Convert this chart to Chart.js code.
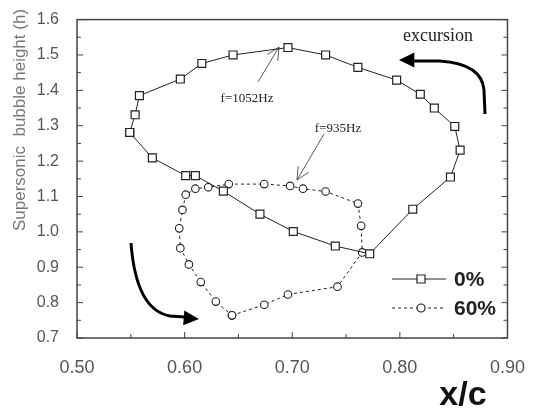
<!DOCTYPE html>
<html>
<head>
<meta charset="utf-8">
<script src="https://cdn.jsdelivr.net/npm/chart.js@4.4.1/dist/chart.umd.min.js"></script>
<style>
  html, body { margin: 0; padding: 0; background: #fff; }
</style>
</head>
<body>
<canvas id="c" width="536" height="412"></canvas>
<script>
// supersonic bubble height over the cycle, two cases

const seriesNames = ['0%', '60%'];

// 0% case, clockwise from the leftmost point
const xc0 = [0.549, 0.554, 0.558, 0.596, 0.616, 0.645, 0.696, 0.731, 0.761, 0.797, 0.819, 0.832,
             0.851, 0.856, 0.847, 0.812, 0.772, 0.740, 0.701, 0.670, 0.636, 0.610, 0.601, 0.570];
const h0  = [1.281, 1.331, 1.385, 1.432, 1.476, 1.500, 1.521, 1.500, 1.465, 1.429, 1.389, 1.350,
             1.298, 1.231, 1.155, 1.064, 0.938, 0.960, 1.001, 1.050, 1.115, 1.159, 1.159, 1.209];

// 60% case, starting from the lowest point
const xc60 = [0.644, 0.674, 0.696, 0.742, 0.765, 0.764, 0.761, 0.731, 0.710, 0.698, 0.674,
              0.641, 0.622, 0.610, 0.601, 0.598, 0.595, 0.596, 0.604, 0.615, 0.629];
const h60  = [0.764, 0.794, 0.823, 0.845, 0.942, 1.017, 1.080, 1.114, 1.122, 1.130, 1.135,
              1.135, 1.126, 1.122, 1.105, 1.062, 1.010, 0.954, 0.908, 0.858, 0.803];

const xTickVals = [0.50, 0.60, 0.70, 0.80, 0.90];
const yTickVals = [0.7, 0.8, 0.9, 1.0, 1.1, 1.2, 1.3, 1.4, 1.5, 1.6];

const xTitle = 'x/c';
const yTitle = 'Supersonic  bubble height (h)';
const notes = [
  { text: 'f=1052Hz', x: 247, y: 99, from: [258, 82], to: [279, 47] },
  { text: 'f=935Hz', x: 338, y: 129, from: [324, 134], to: [297, 180] },
];

// closed loop: repeat first point at the end
const loop = (xs, ys) => xs.map((x, i) => ({ x, y: ys[i] })).concat([{ x: xs[0], y: ys[0] }]);

function openArrow(ctx, [x1, y1], [x2, y2]) {
  const ang = Math.atan2(y1 - y2, x1 - x2);
  ctx.beginPath();
  ctx.moveTo(x1, y1); ctx.lineTo(x2, y2);
  for (const d of [-0.45, 0.45]) {
    ctx.moveTo(x2, y2);
    ctx.lineTo(x2 + 14 * Math.cos(ang + d), y2 + 14 * Math.sin(ang + d));
  }
  ctx.stroke();
}

function headFilled(ctx, tip, ang) {
  const [x, y] = tip;
  ctx.beginPath();
  ctx.moveTo(x, y);
  ctx.lineTo(x - 17 * Math.cos(ang - 0.45), y - 17 * Math.sin(ang - 0.45));
  ctx.lineTo(x - 17 * Math.cos(ang + 0.45), y - 17 * Math.sin(ang + 0.45));
  ctx.closePath();
  ctx.fill();
}

const decor = {
  id: 'decor',
  afterDraw(chart) {
    const { ctx, chartArea: a, scales: { x, y } } = chart;
    ctx.save();

    // frame + inward ticks
    ctx.strokeStyle = '#444';
    ctx.lineWidth = 1.5;
    ctx.strokeRect(a.left, a.top, a.width, a.height);
    ctx.lineWidth = 1;
    for (let i = 0; i <= 8; i++) {
      const px = x.getPixelForValue(0.5 + i * 0.05);
      const len = i % 2 ? 4 : 6;
      ctx.beginPath(); ctx.moveTo(px, a.bottom); ctx.lineTo(px, a.bottom - len); ctx.stroke();
    }
    for (let i = 0; i <= 18; i++) {
      const py = y.getPixelForValue(0.7 + i * 0.05);
      const len = i % 2 ? 4 : 6;
      ctx.beginPath();
      ctx.moveTo(a.left, py); ctx.lineTo(a.left + len, py);
      ctx.moveTo(a.right, py); ctx.lineTo(a.right - len, py);
      ctx.stroke();
    }

    // legend
    const legY = [279, 308];
    chart.data.datasets.forEach((ds, i) => {
      const ly = legY[i];
      ctx.strokeStyle = '#222';
      ctx.lineWidth = 1;
      ctx.setLineDash(ds.borderDash || []);
      ctx.beginPath(); ctx.moveTo(392, ly); ctx.lineTo(446, ly); ctx.stroke();
      ctx.setLineDash([]);
      ctx.fillStyle = '#fff';
      ctx.lineWidth = 1.2;
      ctx.beginPath();
      if (ds.pointStyle === 'rect') ctx.rect(417, ly - 4, 8, 8);
      else ctx.arc(421, ly, 4, 0, Math.PI * 2);
      ctx.fill(); ctx.stroke();
      ctx.fillStyle = '#222';
      ctx.font = 'bold 21px "Liberation Sans", Arial, sans-serif';
      ctx.textAlign = 'left'; ctx.textBaseline = 'middle';
      ctx.fillText(ds.label, 454, ly + 1);
    });

    // frequency notes
    ctx.strokeStyle = '#333';
    ctx.lineWidth = 0.8;
    ctx.fillStyle = '#222';
    ctx.font = '13px "Liberation Serif", "Times New Roman", serif';
    ctx.textAlign = 'center'; ctx.textBaseline = 'middle';
    notes.forEach(n => {
      ctx.fillText(n.text, n.x, n.y);
      openArrow(ctx, n.from, n.to);
    });

    // direction arrows
    ctx.font = '18px "Liberation Serif", "Times New Roman", serif';
    ctx.fillText('excursion', 438, 36);
    ctx.strokeStyle = '#000'; ctx.fillStyle = '#000';
    ctx.lineWidth = 3;
    ctx.beginPath();
    ctx.moveTo(485, 114);
    ctx.lineTo(484, 90);
    ctx.quadraticCurveTo(482, 64, 440, 61);
    ctx.lineTo(412, 61);
    ctx.stroke();
    headFilled(ctx, [399, 60], Math.PI);

    ctx.beginPath();
    ctx.moveTo(131, 243);
    ctx.quadraticCurveTo(136, 310, 170, 316);
    ctx.lineTo(185, 317);
    ctx.stroke();
    headFilled(ctx, [199, 319], 0.08);

    // axis titles
    ctx.fillStyle = '#777';
    ctx.font = '17px "Liberation Sans", Arial, sans-serif';
    ctx.translate(20, 120);
    ctx.rotate(-Math.PI / 2);
    ctx.fillText(yTitle, 0, 0);
    ctx.setTransform(1, 0, 0, 1, 0, 0);
    ctx.fillStyle = '#111';
    ctx.font = 'bold 34px "Liberation Sans", Arial, sans-serif';
    ctx.fillText(xTitle, 463, 396);

    ctx.restore();
  }
};

new Chart(document.getElementById('c').getContext('2d'), {
  type: 'scatter',
  data: {
    datasets: [
      {
        label: seriesNames[0], data: loop(xc0, h0), showLine: true,
        borderColor: '#222', borderWidth: 1,
        pointStyle: 'rect', pointRadius: 5.6, pointBorderWidth: 1.2,
        pointBackgroundColor: '#fff', pointBorderColor: '#222',
      },
      {
        label: seriesNames[1], data: loop(xc60, h60), showLine: true,
        borderColor: '#222', borderWidth: 1, borderDash: [3, 3],
        pointStyle: 'circle', pointRadius: 3.8, pointBorderWidth: 1.1,
        pointBackgroundColor: '#fff', pointBorderColor: '#222',
      },
    ],
  },
  options: {
    responsive: false, animation: false,
    layout: { padding: { top: 15, right: 19, left: 0, bottom: 0 } },
    scales: {
      x: {
        type: 'linear', min: 0.5, max: 0.9,
        afterBuildTicks: s => { s.ticks = xTickVals.map(v => ({ value: v })); },
        afterFit: s => { s.height = 74; },
        grid: { display: false }, border: { display: false },
        ticks: { padding: 11, color: '#555', callback: v => v.toFixed(2),
                 font: { family: '"Liberation Sans", Arial, sans-serif', size: 18 } },
      },
      y: {
        type: 'linear', min: 0.7, max: 1.6,
        afterBuildTicks: s => { s.ticks = yTickVals.map(v => ({ value: v })); },
        afterFit: s => { s.width = 77; },
        grid: { display: false }, border: { display: false },
        ticks: { padding: 10, color: '#555', callback: v => v.toFixed(1),
                 font: { family: '"Liberation Sans", Arial, sans-serif', size: 16 } },
      },
    },
    plugins: { legend: { display: false }, tooltip: { enabled: false } },
  },
  plugins: [decor],
});
</script>
</body>
</html>
